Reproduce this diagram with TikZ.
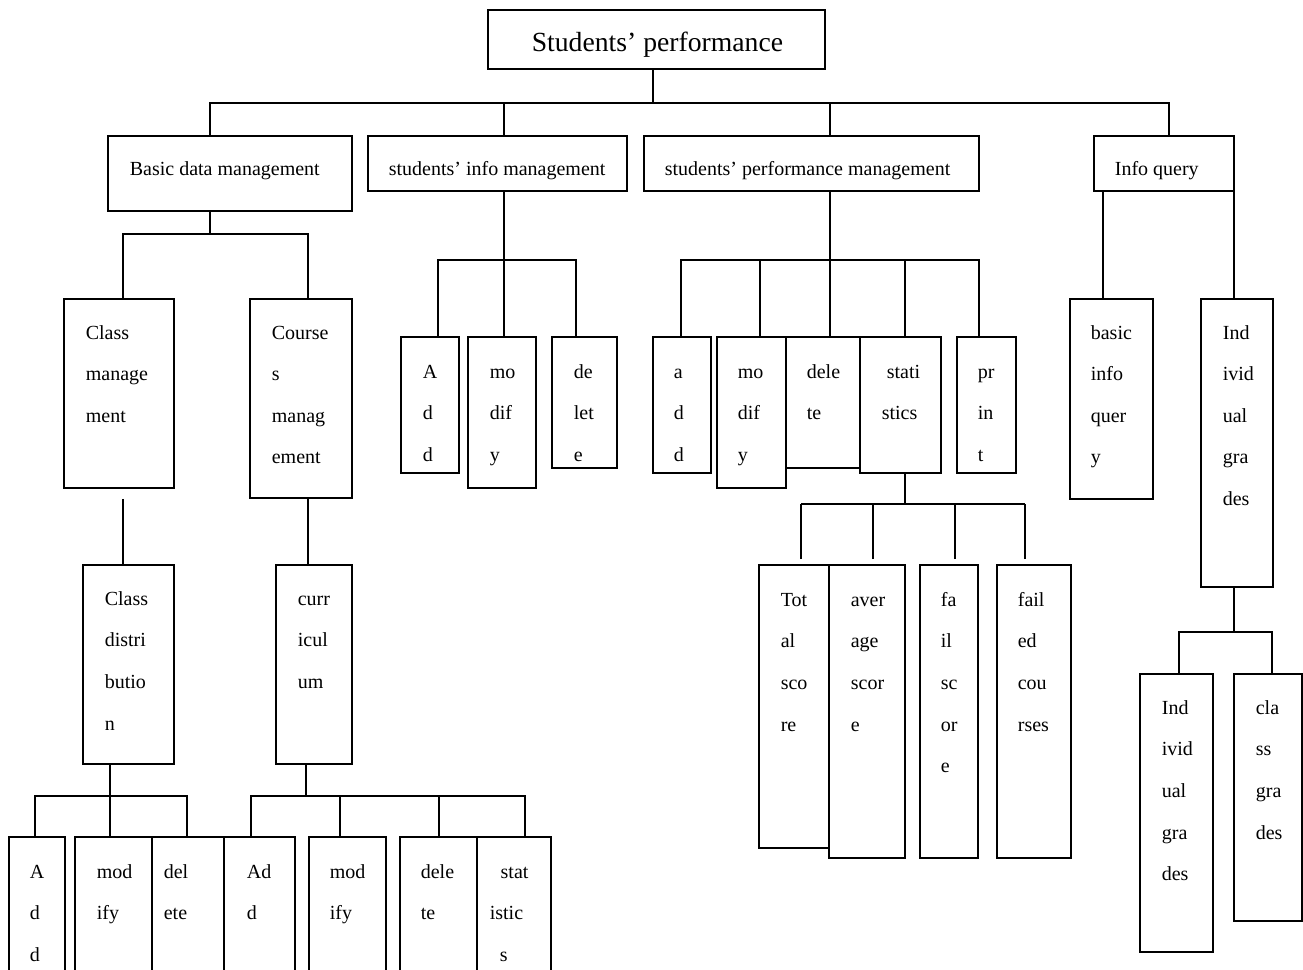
\documentclass[tikz,border=0pt]{standalone}
\usepackage{fontspec}
\setmainfont{Liberation Serif}
\usetikzlibrary{fit}
\begin{document}
\begin{tikzpicture}[x=0.6pt,y=-0.6pt,line width=1pt,
  box/.style={draw,inner sep=0pt},
  title/.style={anchor=base west,inner sep=0pt,font=\fontsize{16.6}{20}\selectfont},
  head/.style={anchor=base west,inner sep=0pt,font=\fontsize{12}{14}\selectfont},
  txt/.style={anchor=base west,inner sep=0pt,yshift=-1.2pt,text width=50pt,align=left,font=\fontsize{12}{25}\selectfont}]
\useasboundingbox (0,0) rectangle (1303,970);
% top
\node[box,fit={(488,10) (825,69)}] (root) {};
\node[title] (root-t) at (531,52) {Students' performance};
\node[box,fit={(108,136) (352,211)}] (bdm) {};
\node[head] (bdm-t) at (129,176) {Basic data management};
\node[box,fit={(368,136) (627,191)}] (sim) {};
\node[head] (sim-t) at (388,176) {students' info management};
\node[box,fit={(644,136) (979,191)}] (spm) {};
\node[head] (spm-t) at (664,176) {students' performance management};
\node[box,fit={(1094,136) (1234,191)}] (iq) {};
\node[head] (iq-t) at (1114,176) {Info query};
\draw (root.south -| 653,0) -- ++(0,33) coordinate (h0);
\draw (bdm.north -| 210,0) |- (h0) -| (iq.north -| 1169,0);
\draw (sim.north -| 504,0) -- (504,0 |- h0);
\draw (spm.north -| 830,0) -- (830,0 |- h0);
% basic data
\node[box,fit={(64,299) (174,488)}] (cm) {};
\node[txt] (cm-t) at (85,337) {Class\\manage\\ment};
\node[box,fit={(250,299) (352,498)}] (crm) {};
\node[txt] (crm-t) at (271,337) {Course\\s\\manag\\ement};
\node[box,fit={(83,565) (174,764)}] (cd) {};
\node[txt] (cd-t) at (104,603) {Class\\distri\\butio\\n};
\node[box,fit={(276,565) (352,764)}] (cur) {};
\node[txt] (cur-t) at (297,603) {curr\\icul\\um};
\draw (bdm.south -| 210,0) -- ++(0,22) coordinate (h1);
\draw (cm.north -| 123,0) |- (h1) -| (crm.north -| 308,0);
\draw (cm.south -| 123,0) ++(0,10) -- (cd.north -| 123,0);
\draw (crm.south -| 308,0) -- (cur.north -| 308,0);
\node[box,fit={(9,837) (65,985)}] (a1) {};
\node[txt] (a1-t) at (29,876) {A\\d\\d};
\node[box,fit={(75,837) (152,985)}] (m1) {};
\node[txt] (m1-t) at (96,876) {mod\\ify};
\node[box,fit={(152,837) (224,985)}] (d1) {};
\node[txt] (d1-t) at (163,876) {del\\ete};
\node[box,fit={(224,837) (295,985)}] (a2) {};
\node[txt] (a2-t) at (246,876) {Ad\\d};
\node[box,fit={(309,837) (386,985)}] (m2) {};
\node[txt] (m2-t) at (329,876) {mod\\ify};
\node[box,fit={(400,837) (477,985)}] (d2) {};
\node[txt] (d2-t) at (420,876) {dele\\te};
\node[box,fit={(477,837) (551,985)}] (s2) {};
\node[txt] (s2-t) at (489,876) {\hspace*{6.5pt}stat\\istic\\\hspace*{6pt}s};
\draw (cd.south -| 110,0) -- ++(0,31) coordinate (h2);
\draw (a1.north -| 35,0) |- (h2) -| (d1.north -| 187,0);
\draw (m1.north -| 110,0) -- (h2);
\draw (cur.south -| 306,0) -- ++(0,31) coordinate (h3);
\draw (a2.north -| 251,0) |- (h3) -| (s2.north -| 525,0);
\draw (m2.north -| 340,0) -- (340,0 |- h3);
\draw (d2.north -| 439,0) -- (439,0 |- h3);
% students info
\node[box,fit={(401,337) (459,473)}] (sa) {};
\node[txt] (sa-t) at (422,376) {A\\d\\d};
\node[box,fit={(468,337) (536,488)}] (sm) {};
\node[txt] (sm-t) at (489,376) {mo\\dif\\y};
\node[box,fit={(552,337) (617,468)}] (sd) {};
\node[txt] (sd-t) at (573,376) {de\\let\\e};
\draw (sim.south -| 504,0) -- ++(0,68) coordinate (h4);
\draw (sa.north -| 438,0) |- (h4) -| (sd.north -| 576,0);
\draw (sm.north -| 504,0) -- (h4);
% performance
\node[box,fit={(653,337) (711,473)}] (pa) {};
\node[txt] (pa-t) at (673,376) {a\\d\\d};
\node[box,fit={(717,337) (786,488)}] (pm) {};
\node[txt] (pm-t) at (737,376) {mo\\dif\\y};
\node[box,fit={(786,337) (860,468)}] (pd) {};
\node[txt] (pd-t) at (806,376) {dele\\te};
\node[box,fit={(860,337) (941,473)}] (ps) {};
\node[txt] (ps-t) at (881,376) {\hspace*{3pt}stati\\stics};
\node[box,fit={(957,337) (1016,473)}] (pp) {};
\node[txt] (pp-t) at (977,376) {pr\\in\\t};
\draw (spm.south -| 830,0) -- ++(0,68) coordinate (h5);
\draw (pa.north -| 681,0) |- (h5) -| (pp.north -| 979,0);
\draw (pm.north -| 760,0) -- (760,0 |- h5);
\draw (pd.north -| 830,0) -- (h5);
\draw (ps.north -| 905,0) -- (905,0 |- h5);
\node[box,fit={(759,565) (829,848)}] (ts) {};
\node[txt] (ts-t) at (780,604) {Tot\\al\\sco\\re};
\node[box,fit={(829,565) (905,858)}] (as) {};
\node[txt] (as-t) at (850,604) {aver\\age\\scor\\e};
\node[box,fit={(920,565) (978,858)}] (fs) {};
\node[txt] (fs-t) at (940,604) {fa\\il\\sc\\or\\e};
\node[box,fit={(997,565) (1071,858)}] (fc) {};
\node[txt] (fc-t) at (1017,604) {fail\\ed\\cou\\rses};
\draw (ps.south -| 905,0) -- ++(0,30) coordinate (h6);
\draw (801,0 |- h6) -- (1025,0 |- h6);
\foreach \x/\n in {801/ts,873/as,955/fs,1025/fc}
  \draw (\n.north -| \x,0) ++(0,-5) -- (\x,0 |- h6);
% query
\node[box,fit={(1070,299) (1153,499)}] (biq) {};
\node[txt] (biq-t) at (1090,337) {basic\\info\\quer\\y};
\node[box,fit={(1201,299) (1273,587)}] (ig) {};
\node[txt] (ig-t) at (1222,337) {Ind\\ivid\\ual\\gra\\des};
\node[box,fit={(1140,674) (1213,952)}] (ig2) {};
\node[txt] (ig2-t) at (1161,712) {Ind\\ivid\\ual\\gra\\des};
\node[box,fit={(1234,674) (1302,921)}] (cg) {};
\node[txt] (cg-t) at (1255,712) {cla\\ss\\gra\\des};
\draw (iq.south -| 1103,0) -- (biq.north -| 1103,0);
\draw (iq.south -| 1234,0) -- (ig.north -| 1234,0);
\draw (ig.south -| 1234,0) -- ++(0,44) coordinate (h7);
\draw (ig2.north -| 1179,0) |- (h7) -| (cg.north -| 1272,0);
\end{tikzpicture}
\end{document}
